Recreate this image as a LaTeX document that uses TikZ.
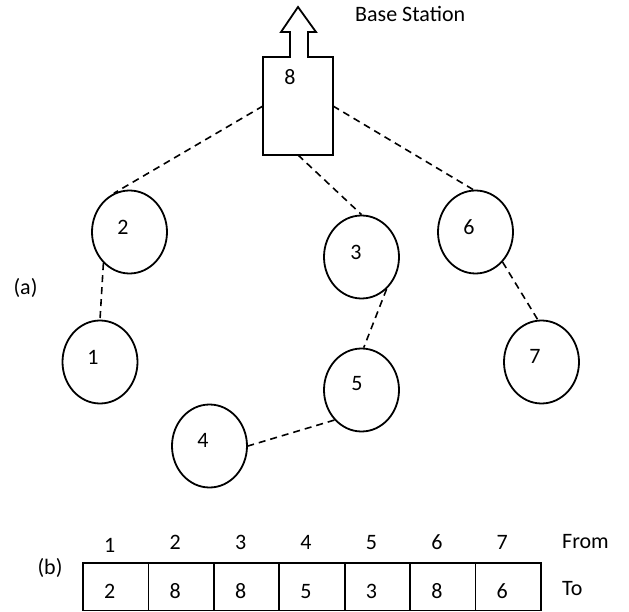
\documentclass[tikz,border=0pt]{standalone}
\usepackage{fontspec}
\setmainfont{Carlito}
\usetikzlibrary{shapes.geometric,calc}
\tikzset{
  site/.style={ellipse, draw, line width=1.8pt, minimum width=75pt, minimum height=83pt, inner sep=0pt},
  link/.style={line width=1.6pt, dash pattern=on 7pt off 5pt},
  txt/.style={font=\fontsize{22}{26}\selectfont, inner sep=0pt},
  cell/.style={draw, line width=1.6pt, minimum width=65.43pt, minimum height=47.5pt, inner sep=0pt, outer sep=0pt, anchor=north west},
  station/.style={rectangle, draw=none, minimum width=70pt, minimum height=98pt, inner sep=0pt, outer sep=0pt}
}
\begin{document}
\begin{tikzpicture}[x=1pt,y=-1pt]
\useasboundingbox (0,0) rectangle (629,612);

% base station body with the uplink arrow on top
\node[station] (bs) at (298,106) {};
\draw[line width=1.8pt, line join=miter]
  (bs.north west) -- (290,57) -- (290,32) -- (281,32) -- (298,7) -- (316,32) -- (308,32) -- (308,57)
  -- (bs.north east) -- (bs.south east) -- (bs.south west) -- cycle;
\node[txt] (bsid) at (290,77) {8};
\node[txt, anchor=base west] (bsname) at (355,22) {Base Station};

% sensor nodes
\node[site] (n2) at (129.5,232) {};
\node[site] (n1) at (100,362) {};
\node[site] (n3) at (361.5,257) {};
\node[site] (n5) at (361.5,390) {};
\node[site] (n6) at (475.5,232) {};
\node[site] (n7) at (541.5,362) {};
\node[site] (n4) at (209.5,446) {};
\node[txt] (l2) at (123,227) {2};
\node[txt] (l1) at (93,357) {1};
\node[txt] (l3) at (356,252) {3};
\node[txt] (l5) at (357,384) {5};
\node[txt] (l6) at (469,227) {6};
\node[txt] (l7) at (535,356) {7};
\node[txt] (l4) at (203,440) {4};

% routing tree links
\draw[link] (bs.west) -- (n2.112);
\draw[link] (bs.south) -- (n3.90);
\draw[link] (bs.east) -- (n6.93);
\draw[link] (n2.230) -- (n1.90);
\draw[link] (n3.308) -- (n5.87);
\draw[link] (n6.312) -- (n7.95);
\draw[link] (n5.228) -- (n4.east);

\node[txt] (parta) at (25.5,288) {(a)};

% parent table: source id above, parent id in the cell
\foreach \dst [count=\i] in {2,8,8,5,3,8,6} {
  \node[cell] (c\i) at ({83+65.43*(\i-1)},563) {};
  \node[txt, anchor=base] (d\i) at ($(c\i.north)+(-6,35)$) {\dst};
}
\node[txt, anchor=base] (h1) at ($(c1.north)+(-6,-11)$) {1};
\foreach \i in {2,...,7} {
  \node[txt, anchor=base] (h\i) at ($(c\i.north)+(-6,-14)$) {\i};
}
\node[txt, anchor=base west] (from) at (562,548) {From};
\node[txt, anchor=base west] (to) at (562,595) {To};
\node[txt] (partb) at (50,568) {(b)};
\end{tikzpicture}
\end{document}
